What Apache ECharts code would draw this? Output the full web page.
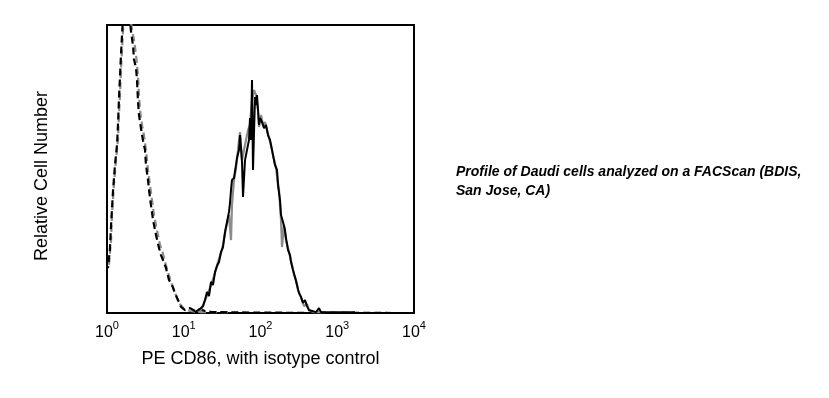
<!DOCTYPE html>
<html>
<head>
<meta charset="utf-8">
<script src="https://cdn.jsdelivr.net/npm/echarts@6/dist/echarts.min.js"></script>
<style>
html,body{margin:0;padding:0;background:#fff;}
#c{width:829px;height:398px;}
</style>
</head>
<body>
<div id="c"></div>
<script>
// X axis ticks (log10 decades) and texts
const tickExponents = [0, 1, 2, 3, 4];
const xTitle = 'PE CD86, with isotype control';
const yTitle = 'Relative Cell Number';
const note = 'Profile of Daudi cells analyzed on a FACScan (BDIS,\nSan Jose, CA)';

// Isotype control (black dashed)
const isoBlackX = [1.03,1.09,1.13,1.20,1.27,1.35,1.39,1.43,1.48,1.52,1.57,1.62,1.72,1.82,1.94,2.05,2.18,2.25,2.39,2.46,2.53,2.61,2.77,2.94,3.13,3.22,3.42,3.53,3.74,3.98,4.35,4.76,5.05,5.37,5.87,6.42,7.03,7.69,8.41,9.21,10.4,12.1,14.0,16.3,18.9,23.3,29.7,54,180,6000];
const isoBlackY = [15.6,21.9,30.6,42.7,51.4,58.3,65.3,74,82.6,89.6,96.5,103.5,112,110,105,98,93,88,85,81,74,68.8,64.2,60,56.6,51.4,46.2,42.7,37.5,32.3,27.1,22.6,20.1,18.4,15.6,11.5,9.7,6.9,4.5,2.1,1.0,1.7,0.7,1.4,0.7,0.3,0.3,0.2,0.1,0];

// Isotype control (grey dashed)
const isoGreyX = [1.06,1.13,1.16,1.23,1.31,1.39,1.43,1.48,1.52,1.57,1.62,1.72,1.88,1.99,2.12,2.25,2.39,2.53,2.61,2.69,2.86,3.03,3.22,3.42,3.63,3.86,4.10,4.48,4.91,5.21,5.70,6.23,6.82,7.46,8.17,8.93,10.08,12.1,16.3,40.1];
const isoGreyY = [16.7,25.3,34,44.4,53.1,60.1,68.8,75.7,84.4,91.3,98.3,107,110,103.5,98.3,94.8,89.6,82.6,75.7,70.5,65.3,61.8,56.6,49.7,44.4,39.2,34,28.8,23.6,21.9,17.7,14.2,10.8,8,5.2,3.1,1.4,0.7,0.3,0.3];

// PE CD86 (black solid)
const cdBlackX = [14.02,16.28,17.82,18.92,20.09,21.33,22.65,24.05,25.54,27.12,28.80,30.57,32.46,34.47,36.60,38.87,40.05,41.27,42.53,45.16,47.95,49.41,52.47,54.07,55.71,57.41,59.16,62.81,66.69,70.83,72.98,75.20,77.50,79.86,84.80,87.39,90.05,92.79,95.62,98.51,104.6,111.1,117.9,125.2,133.0,141.2,149.9,154.5,164.1,169.0,179.6,185.0,196.5,208.6,214.9,228.2,242.3,249.7,265.2,281.5,298.9,317.4,337.1,357.8,380.0,403.5,428.5,468.9,528.6,578.5,614.2,804.6,1086,1703];
const cdBlackY = [0.3,1.4,2.4,4.5,7.3,5.9,10.8,9.7,14.2,16.3,17.7,21.2,22.9,28.1,31.6,35.1,38.2,42.7,46.2,46.9,51.4,53.8,56.6,61.8,57.3,52.4,40.3,53.1,56.6,60.1,67.7,60.1,80.9,49.7,75,72.2,75.7,70.5,65.3,67.7,66.3,64.2,65.3,61.8,60.1,56.6,53.1,51.4,49.7,44.4,39.2,34,31.6,28.8,26,21.9,20.1,17.7,14.9,12.5,9.7,6.9,5.6,3.5,4.5,2.4,1.0,0.7,0.3,1.7,0.3,0.3,0.3,0.3];

// PE CD86 (grey solid)
const cdGreyX = [15.34,17.29,19.50,21.98,24.78,27.95,31.51,35.52,38.87,41.27,42.53,45.16,47.95,50.91,54.07,57.41,60.95,64.72,68.72,72.98,77.50,82.29,87.39,92.79,95.62,101.5,107.8,114.5,121.5,129.1,137.0,145.5,159.2,174.2,185.0,190.6,202.4,214.9,235.1,257.3,273.3,290.1,308.1,327.1,347.3,368.8,403.5,428.5,497.9,692.6];
const cdGreyY = [0.3,1.7,5.2,8.7,12.8,17.7,21.9,29.5,34,25.3,37.5,46.2,50.3,56.6,62.8,53.1,56.6,60.1,63.5,65.3,74,77.4,75.7,70.5,64.6,68.8,65.3,66.3,63.5,60.8,58.3,54.9,50.3,42.7,32.3,22.9,30.6,25.3,21.2,16.7,13.2,11.5,8,6.3,4.5,2.4,3.1,1,0.3,0.3];

function pairs(xs, ys) { return xs.map((x, i) => [x, ys[i]]); }

const FONT = "'Liberation Sans', Arial, sans-serif";
const chart = echarts.init(document.getElementById('c'));
chart.setOption({
  animation: false,
  backgroundColor: '#fff',
  grid: { left: 107, right: 415, top: 25, bottom: 85, show: true, borderColor: '#000', borderWidth: 2, backgroundColor: 'transparent' },
  xAxis: {
    type: 'log', logBase: 10, min: Math.pow(10, tickExponents[0]), max: Math.pow(10, tickExponents[tickExponents.length - 1]),
    axisLine: { show: false }, axisTick: { show: false }, splitLine: { show: false }, minorTick: { show: false },
    name: xTitle, nameLocation: 'middle', nameGap: 37,
    nameTextStyle: { fontFamily: FONT, fontSize: 18, color: '#000' },
    axisLabel: {
      margin: 7, showMinLabel: true, showMaxLabel: true,
      formatter: function (v) { const e = Math.round(Math.log10(v)); return '{b|10}{s|' + e + '}'; },
      rich: {
        b: { fontFamily: FONT, fontSize: 16, color: '#000', verticalAlign: 'middle' },
        s: { fontFamily: FONT, fontSize: 11, color: '#000', padding: [0, 0, 14, 0], verticalAlign: 'middle' }
      }
    }
  },
  yAxis: { type: 'value', min: 0, max: 100, show: false },
  graphic: [
    { type: 'text', x: 42, y: 176, rotation: Math.PI / 2,
      style: { text: yTitle, font: '18px ' + FONT, fill: '#000', align: 'center', verticalAlign: 'middle' } },
    { type: 'text', x: 456, y: 163,
      style: { text: note, font: 'italic bold 14px ' + FONT, fill: '#000', lineHeight: 19, align: 'left', verticalAlign: 'top' } }
  ],
  series: [
    { type: 'line', data: pairs(isoGreyX, isoGreyY), showSymbol: false, lineStyle: { color: '#8c8c8c', width: 2.2, type: [7, 4] } },
    { type: 'line', data: pairs(isoBlackX, isoBlackY), showSymbol: false, lineStyle: { color: '#000', width: 2.2, type: [7, 4], dashOffset: 5 } },
    { type: 'line', data: pairs(cdGreyX, cdGreyY), showSymbol: false, lineStyle: { color: '#8c8c8c', width: 2.2 } },
    { type: 'line', data: pairs(cdBlackX, cdBlackY), showSymbol: false, lineStyle: { color: '#000', width: 2 } }
  ]
});
</script>
</body>
</html>
